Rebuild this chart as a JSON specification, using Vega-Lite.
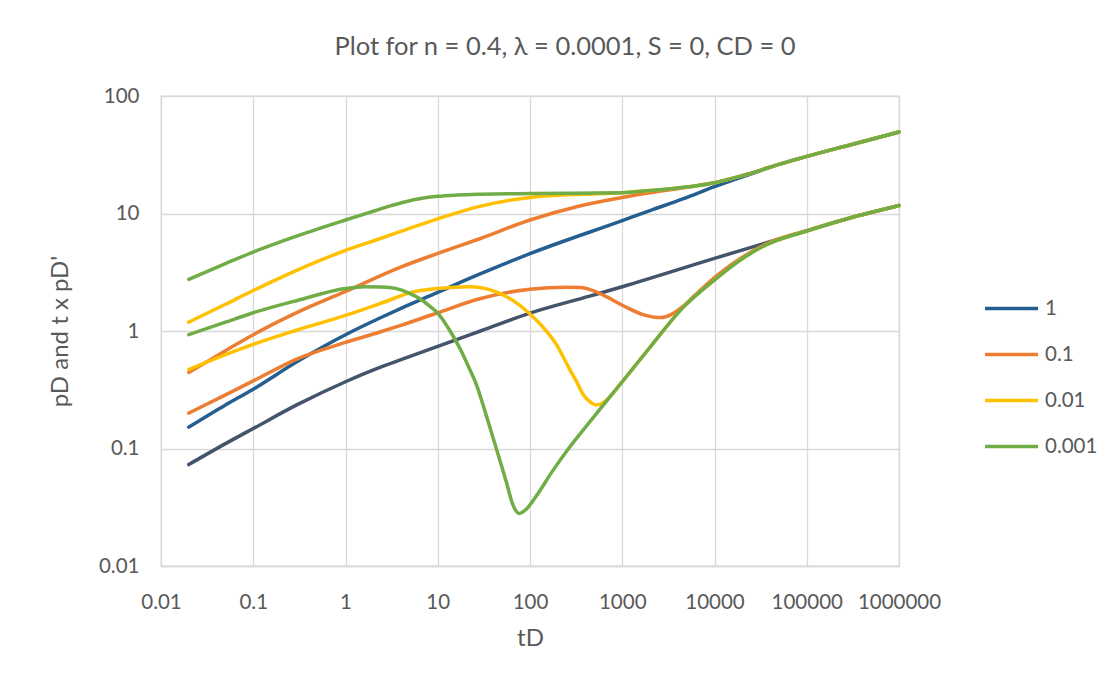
{
"$schema": "https://vega.github.io/schema/vega-lite/v6.json",
"width": 738, "height": 470,
"autosize": {"type": "none"},
"padding": {"left": 161, "top": 96, "right": 212, "bottom": 114},
"background": "white",
"config": {"view": {"stroke": "#d9d9d9", "strokeWidth": 1.3}, "font": "Lato"},
"title": {"text": "Plot for n = 0.4, λ = 0.0001, S = 0, CD = 0", "font": "Lato", "fontSize": 25.5, "fontWeight": "normal", "color": "#595959", "anchor": "middle", "dx": 35, "offset": 26},
"data": {"values": [
{"t":0.02,"p":0.152,"s":"1","c":"pD"},{"t":0.05,"p":0.235,"s":"1","c":"pD"},{"t":0.1,"p":0.32,"s":"1","c":"pD"},{"t":0.3,"p":0.55,"s":"1","c":"pD"},{"t":1,"p":0.93,"s":"1","c":"pD"},{"t":2.36,"p":1.29,"s":"1","c":"pD"},{"t":4,"p":1.56,"s":"1","c":"pD"},{"t":10,"p":2.13,"s":"1","c":"pD"},{"t":17.3,"p":2.58,"s":"1","c":"pD"},{"t":36.6,"p":3.31,"s":"1","c":"pD"},{"t":100,"p":4.55,"s":"1","c":"pD"},{"t":1000,"p":8.7,"s":"1","c":"pD"},{"t":2000,"p":10.6,"s":"1","c":"pD"},{"t":4540,"p":13.3,"s":"1","c":"pD"},{"t":10000,"p":16.9,"s":"1","c":"pD"},{"t":20000,"p":20.5,"s":"1","c":"pD"},{"t":30700,"p":23.0,"s":"1","c":"pD"},{"t":50000,"p":26.2,"s":"1","c":"pD"},{"t":100000,"p":30.6,"s":"1","c":"pD"},{"t":300000,"p":38.5,"s":"1","c":"pD"},{"t":1000000,"p":49.4,"s":"1","c":"pD"},
{"t":0.02,"p":0.073,"s":"1d","c":"dv"},{"t":0.05,"p":0.11,"s":"1d","c":"dv"},{"t":0.1,"p":0.148,"s":"1d","c":"dv"},{"t":0.3,"p":0.236,"s":"1d","c":"dv"},{"t":1,"p":0.37,"s":"1d","c":"dv"},{"t":2.36,"p":0.49,"s":"1d","c":"dv"},{"t":4,"p":0.57,"s":"1d","c":"dv"},{"t":10,"p":0.74,"s":"1d","c":"dv"},{"t":30,"p":1.01,"s":"1d","c":"dv"},{"t":100,"p":1.42,"s":"1d","c":"dv"},{"t":443,"p":1.98,"s":"1d","c":"dv"},{"t":1000,"p":2.38,"s":"1d","c":"dv"},{"t":10000,"p":4.15,"s":"1d","c":"dv"},{"t":100000,"p":7.15,"s":"1d","c":"dv"},{"t":300000,"p":9.2,"s":"1d","c":"dv"},{"t":1000000,"p":11.7,"s":"1d","c":"dv"},
{"t":0.02,"p":0.444,"s":"0.1","c":"pD"},{"t":0.05,"p":0.68,"s":"0.1","c":"pD"},{"t":0.1,"p":0.93,"s":"0.1","c":"pD"},{"t":0.3,"p":1.44,"s":"0.1","c":"pD"},{"t":1,"p":2.17,"s":"0.1","c":"pD"},{"t":3.9,"p":3.48,"s":"0.1","c":"pD"},{"t":10,"p":4.57,"s":"0.1","c":"pD"},{"t":28.5,"p":6.1,"s":"0.1","c":"pD"},{"t":100,"p":8.8,"s":"0.1","c":"pD"},{"t":345,"p":11.6,"s":"0.1","c":"pD"},{"t":1000,"p":13.7,"s":"0.1","c":"pD"},{"t":2000,"p":15.0,"s":"0.1","c":"pD"},{"t":5000,"p":16.7,"s":"0.1","c":"pD"},{"t":10000,"p":18.3,"s":"0.1","c":"pD"},{"t":20000,"p":21.0,"s":"0.1","c":"pD"},{"t":30700,"p":23.2,"s":"0.1","c":"pD"},{"t":50000,"p":26.2,"s":"0.1","c":"pD"},{"t":100000,"p":30.6,"s":"0.1","c":"pD"},{"t":300000,"p":38.5,"s":"0.1","c":"pD"},{"t":1000000,"p":49.4,"s":"0.1","c":"pD"},
{"t":0.02,"p":0.2,"s":"0.1","c":"dv"},{"t":0.05,"p":0.286,"s":"0.1","c":"dv"},{"t":0.1,"p":0.376,"s":"0.1","c":"dv"},{"t":0.3,"p":0.58,"s":"0.1","c":"dv"},{"t":1,"p":0.8,"s":"0.1","c":"dv"},{"t":2.36,"p":0.98,"s":"0.1","c":"dv"},{"t":3.9,"p":1.11,"s":"0.1","c":"dv"},{"t":10,"p":1.43,"s":"0.1","c":"dv"},{"t":28.5,"p":1.88,"s":"0.1","c":"dv"},{"t":100,"p":2.27,"s":"0.1","c":"dv"},{"t":250,"p":2.36,"s":"0.1","c":"dv"},{"t":350,"p":2.34,"s":"0.1","c":"dv"},{"t":500,"p":2.18,"s":"0.1","c":"dv"},{"t":671,"p":1.96,"s":"0.1","c":"dv"},{"t":1016,"p":1.65,"s":"0.1","c":"dv"},{"t":1675,"p":1.38,"s":"0.1","c":"dv"},{"t":2600,"p":1.3,"s":"0.1","c":"dv"},{"t":3500,"p":1.4,"s":"0.1","c":"dv"},{"t":4540,"p":1.62,"s":"0.1","c":"dv"},{"t":6000,"p":1.98,"s":"0.1","c":"dv"},{"t":10000,"p":2.85,"s":"0.1","c":"dv"},{"t":18700,"p":4.1,"s":"0.1","c":"dv"},{"t":36000,"p":5.5,"s":"0.1","c":"dv"},{"t":100000,"p":7.15,"s":"0.1","c":"dv"},{"t":300000,"p":9.2,"s":"0.1","c":"dv"},{"t":1000000,"p":11.7,"s":"0.1","c":"dv"},
{"t":0.02,"p":1.19,"s":"0.01","c":"pD"},{"t":0.05,"p":1.69,"s":"0.01","c":"pD"},{"t":0.1,"p":2.21,"s":"0.01","c":"pD"},{"t":0.3,"p":3.3,"s":"0.01","c":"pD"},{"t":1,"p":4.85,"s":"0.01","c":"pD"},{"t":2.35,"p":6.1,"s":"0.01","c":"pD"},{"t":3.9,"p":7.0,"s":"0.01","c":"pD"},{"t":10,"p":9.0,"s":"0.01","c":"pD"},{"t":28.5,"p":11.5,"s":"0.01","c":"pD"},{"t":100,"p":13.7,"s":"0.01","c":"pD"},{"t":345,"p":14.6,"s":"0.01","c":"pD"},{"t":1000,"p":15.0,"s":"0.01","c":"pD"},{"t":2000,"p":15.7,"s":"0.01","c":"pD"},{"t":5000,"p":16.8,"s":"0.01","c":"pD"},{"t":10000,"p":18.3,"s":"0.01","c":"pD"},{"t":20000,"p":21.0,"s":"0.01","c":"pD"},{"t":30700,"p":23.2,"s":"0.01","c":"pD"},{"t":50000,"p":26.2,"s":"0.01","c":"pD"},{"t":100000,"p":30.6,"s":"0.01","c":"pD"},{"t":300000,"p":38.5,"s":"0.01","c":"pD"},{"t":1000000,"p":49.4,"s":"0.01","c":"pD"},
{"t":0.02,"p":0.47,"s":"0.01","c":"dv"},{"t":0.05,"p":0.63,"s":"0.01","c":"dv"},{"t":0.1,"p":0.77,"s":"0.01","c":"dv"},{"t":0.3,"p":1.02,"s":"0.01","c":"dv"},{"t":1,"p":1.36,"s":"0.01","c":"dv"},{"t":2.36,"p":1.71,"s":"0.01","c":"dv"},{"t":5.4,"p":2.15,"s":"0.01","c":"dv"},{"t":10,"p":2.3,"s":"0.01","c":"dv"},{"t":22,"p":2.38,"s":"0.01","c":"dv"},{"t":43,"p":2.15,"s":"0.01","c":"dv"},{"t":77,"p":1.66,"s":"0.01","c":"dv"},{"t":127,"p":1.16,"s":"0.01","c":"dv"},{"t":193,"p":0.77,"s":"0.01","c":"dv"},{"t":270,"p":0.47,"s":"0.01","c":"dv"},{"t":315,"p":0.38,"s":"0.01","c":"dv"},{"t":375,"p":0.29,"s":"0.01","c":"dv"},{"t":447,"p":0.25,"s":"0.01","c":"dv"},{"t":520,"p":0.235,"s":"0.01","c":"dv"},{"t":620,"p":0.245,"s":"0.01","c":"dv"},{"t":730,"p":0.275,"s":"0.01","c":"dv"},{"t":1000,"p":0.37,"s":"0.01","c":"dv"},{"t":1980,"p":0.72,"s":"0.01","c":"dv"},{"t":4540,"p":1.58,"s":"0.01","c":"dv"},{"t":10000,"p":2.72,"s":"0.01","c":"dv"},{"t":18700,"p":3.98,"s":"0.01","c":"dv"},{"t":36000,"p":5.4,"s":"0.01","c":"dv"},{"t":100000,"p":7.1,"s":"0.01","c":"dv"},{"t":300000,"p":9.2,"s":"0.01","c":"dv"},{"t":1000000,"p":11.7,"s":"0.01","c":"dv"},
{"t":0.02,"p":2.75,"s":"0.001","c":"pD"},{"t":0.05,"p":3.75,"s":"0.001","c":"pD"},{"t":0.1,"p":4.7,"s":"0.001","c":"pD"},{"t":0.3,"p":6.45,"s":"0.001","c":"pD"},{"t":1,"p":8.8,"s":"0.001","c":"pD"},{"t":2,"p":10.45,"s":"0.001","c":"pD"},{"t":3,"p":11.55,"s":"0.001","c":"pD"},{"t":4.5,"p":12.6,"s":"0.001","c":"pD"},{"t":6.5,"p":13.4,"s":"0.001","c":"pD"},{"t":10,"p":14.0,"s":"0.001","c":"pD"},{"t":16,"p":14.35,"s":"0.001","c":"pD"},{"t":30,"p":14.6,"s":"0.001","c":"pD"},{"t":100,"p":14.8,"s":"0.001","c":"pD"},{"t":1000,"p":15.0,"s":"0.001","c":"pD"},{"t":2000,"p":15.7,"s":"0.001","c":"pD"},{"t":5000,"p":16.8,"s":"0.001","c":"pD"},{"t":10000,"p":18.3,"s":"0.001","c":"pD"},{"t":20000,"p":21.0,"s":"0.001","c":"pD"},{"t":30700,"p":23.2,"s":"0.001","c":"pD"},{"t":50000,"p":26.2,"s":"0.001","c":"pD"},{"t":100000,"p":30.6,"s":"0.001","c":"pD"},{"t":300000,"p":38.5,"s":"0.001","c":"pD"},{"t":1000000,"p":49.4,"s":"0.001","c":"pD"},
{"t":0.02,"p":0.93,"s":"0.001","c":"dv"},{"t":0.05,"p":1.19,"s":"0.001","c":"dv"},{"t":0.1,"p":1.43,"s":"0.001","c":"dv"},{"t":0.3,"p":1.82,"s":"0.001","c":"dv"},{"t":1,"p":2.3,"s":"0.001","c":"dv"},{"t":1.6,"p":2.38,"s":"0.001","c":"dv"},{"t":2.4,"p":2.37,"s":"0.001","c":"dv"},{"t":3,"p":2.35,"s":"0.001","c":"dv"},{"t":4,"p":2.24,"s":"0.001","c":"dv"},{"t":5,"p":2.08,"s":"0.001","c":"dv"},{"t":6.4,"p":1.88,"s":"0.001","c":"dv"},{"t":8,"p":1.65,"s":"0.001","c":"dv"},{"t":10,"p":1.42,"s":"0.001","c":"dv"},{"t":13.5,"p":1.01,"s":"0.001","c":"dv"},{"t":17.4,"p":0.71,"s":"0.001","c":"dv"},{"t":22,"p":0.48,"s":"0.001","c":"dv"},{"t":26.4,"p":0.345,"s":"0.001","c":"dv"},{"t":33,"p":0.2,"s":"0.001","c":"dv"},{"t":42.8,"p":0.102,"s":"0.001","c":"dv"},{"t":55,"p":0.053,"s":"0.001","c":"dv"},{"t":65,"p":0.0334,"s":"0.001","c":"dv"},{"t":76.5,"p":0.028,"s":"0.001","c":"dv"},{"t":90.6,"p":0.0303,"s":"0.001","c":"dv"},{"t":116,"p":0.039,"s":"0.001","c":"dv"},{"t":176,"p":0.0645,"s":"0.001","c":"dv"},{"t":267,"p":0.102,"s":"0.001","c":"dv"},{"t":440,"p":0.167,"s":"0.001","c":"dv"},{"t":1000,"p":0.37,"s":"0.001","c":"dv"},{"t":1980,"p":0.72,"s":"0.001","c":"dv"},{"t":4540,"p":1.58,"s":"0.001","c":"dv"},{"t":10000,"p":2.72,"s":"0.001","c":"dv"},{"t":18700,"p":3.98,"s":"0.001","c":"dv"},{"t":36000,"p":5.4,"s":"0.001","c":"dv"},{"t":100000,"p":7.1,"s":"0.001","c":"dv"},{"t":300000,"p":9.2,"s":"0.001","c":"dv"},{"t":1000000,"p":11.7,"s":"0.001","c":"dv"}
]},
"mark": {"type": "line", "strokeWidth": 3.5, "interpolate": "monotone", "strokeCap": "round", "strokeJoin": "round"},
"encoding": {
"x": {"field": "t", "type": "quantitative", "scale": {"type": "log", "domain": [0.01, 1000000]},
 "axis": {"values": [0.01, 0.1, 1, 10, 100, 1000, 10000, 100000, 1000000], "format": "~f", "grid": true, "gridColor": "#d9d9d9", "gridWidth": 1.3, "domainColor": "#d9d9d9", "domainWidth": 1.3, "ticks": false, "tickSize": 0, "labelFontSize": 20.5, "labelColor": "#595959", "labelPadding": 26, "labelFlush": false, "labelOverlap": false, "title": "tD", "titleFontSize": 24, "titleFontWeight": "normal", "titleColor": "#595959", "titlePadding": 14}},
"y": {"field": "p", "type": "quantitative", "scale": {"type": "log", "domain": [0.01, 100]},
 "axis": {"values": [0.01, 0.1, 1, 10, 100], "format": "~f", "grid": true, "gridColor": "#d9d9d9", "gridWidth": 1.3, "domain": false, "ticks": false, "tickSize": 0, "labelFontSize": 20.5, "labelColor": "#595959", "labelPadding": 22, "labelOverlap": false, "title": "pD and t x pD'", "titleFontSize": 24, "titleFontWeight": "normal", "titleColor": "#595959", "titlePadding": 26}},
"color": {"field": "s", "type": "nominal",
 "scale": {"domain": ["1", "1d", "0.1", "0.01", "0.001"], "range": ["#255E91", "#44546A", "#ED7D31", "#FFC000", "#70AD47"]},
 "legend": {"values": ["1", "0.1", "0.01", "0.001"], "title": null, "orient": "none", "legendX": 822, "legendY": 184, "symbolType": "stroke", "symbolSize": 2809, "symbolStrokeWidth": 3.5, "labelFontSize": 20.5, "labelColor": "#595959", "labelOffset": 5, "rowPadding": 7}},
"detail": {"field": "c"}
}
}
